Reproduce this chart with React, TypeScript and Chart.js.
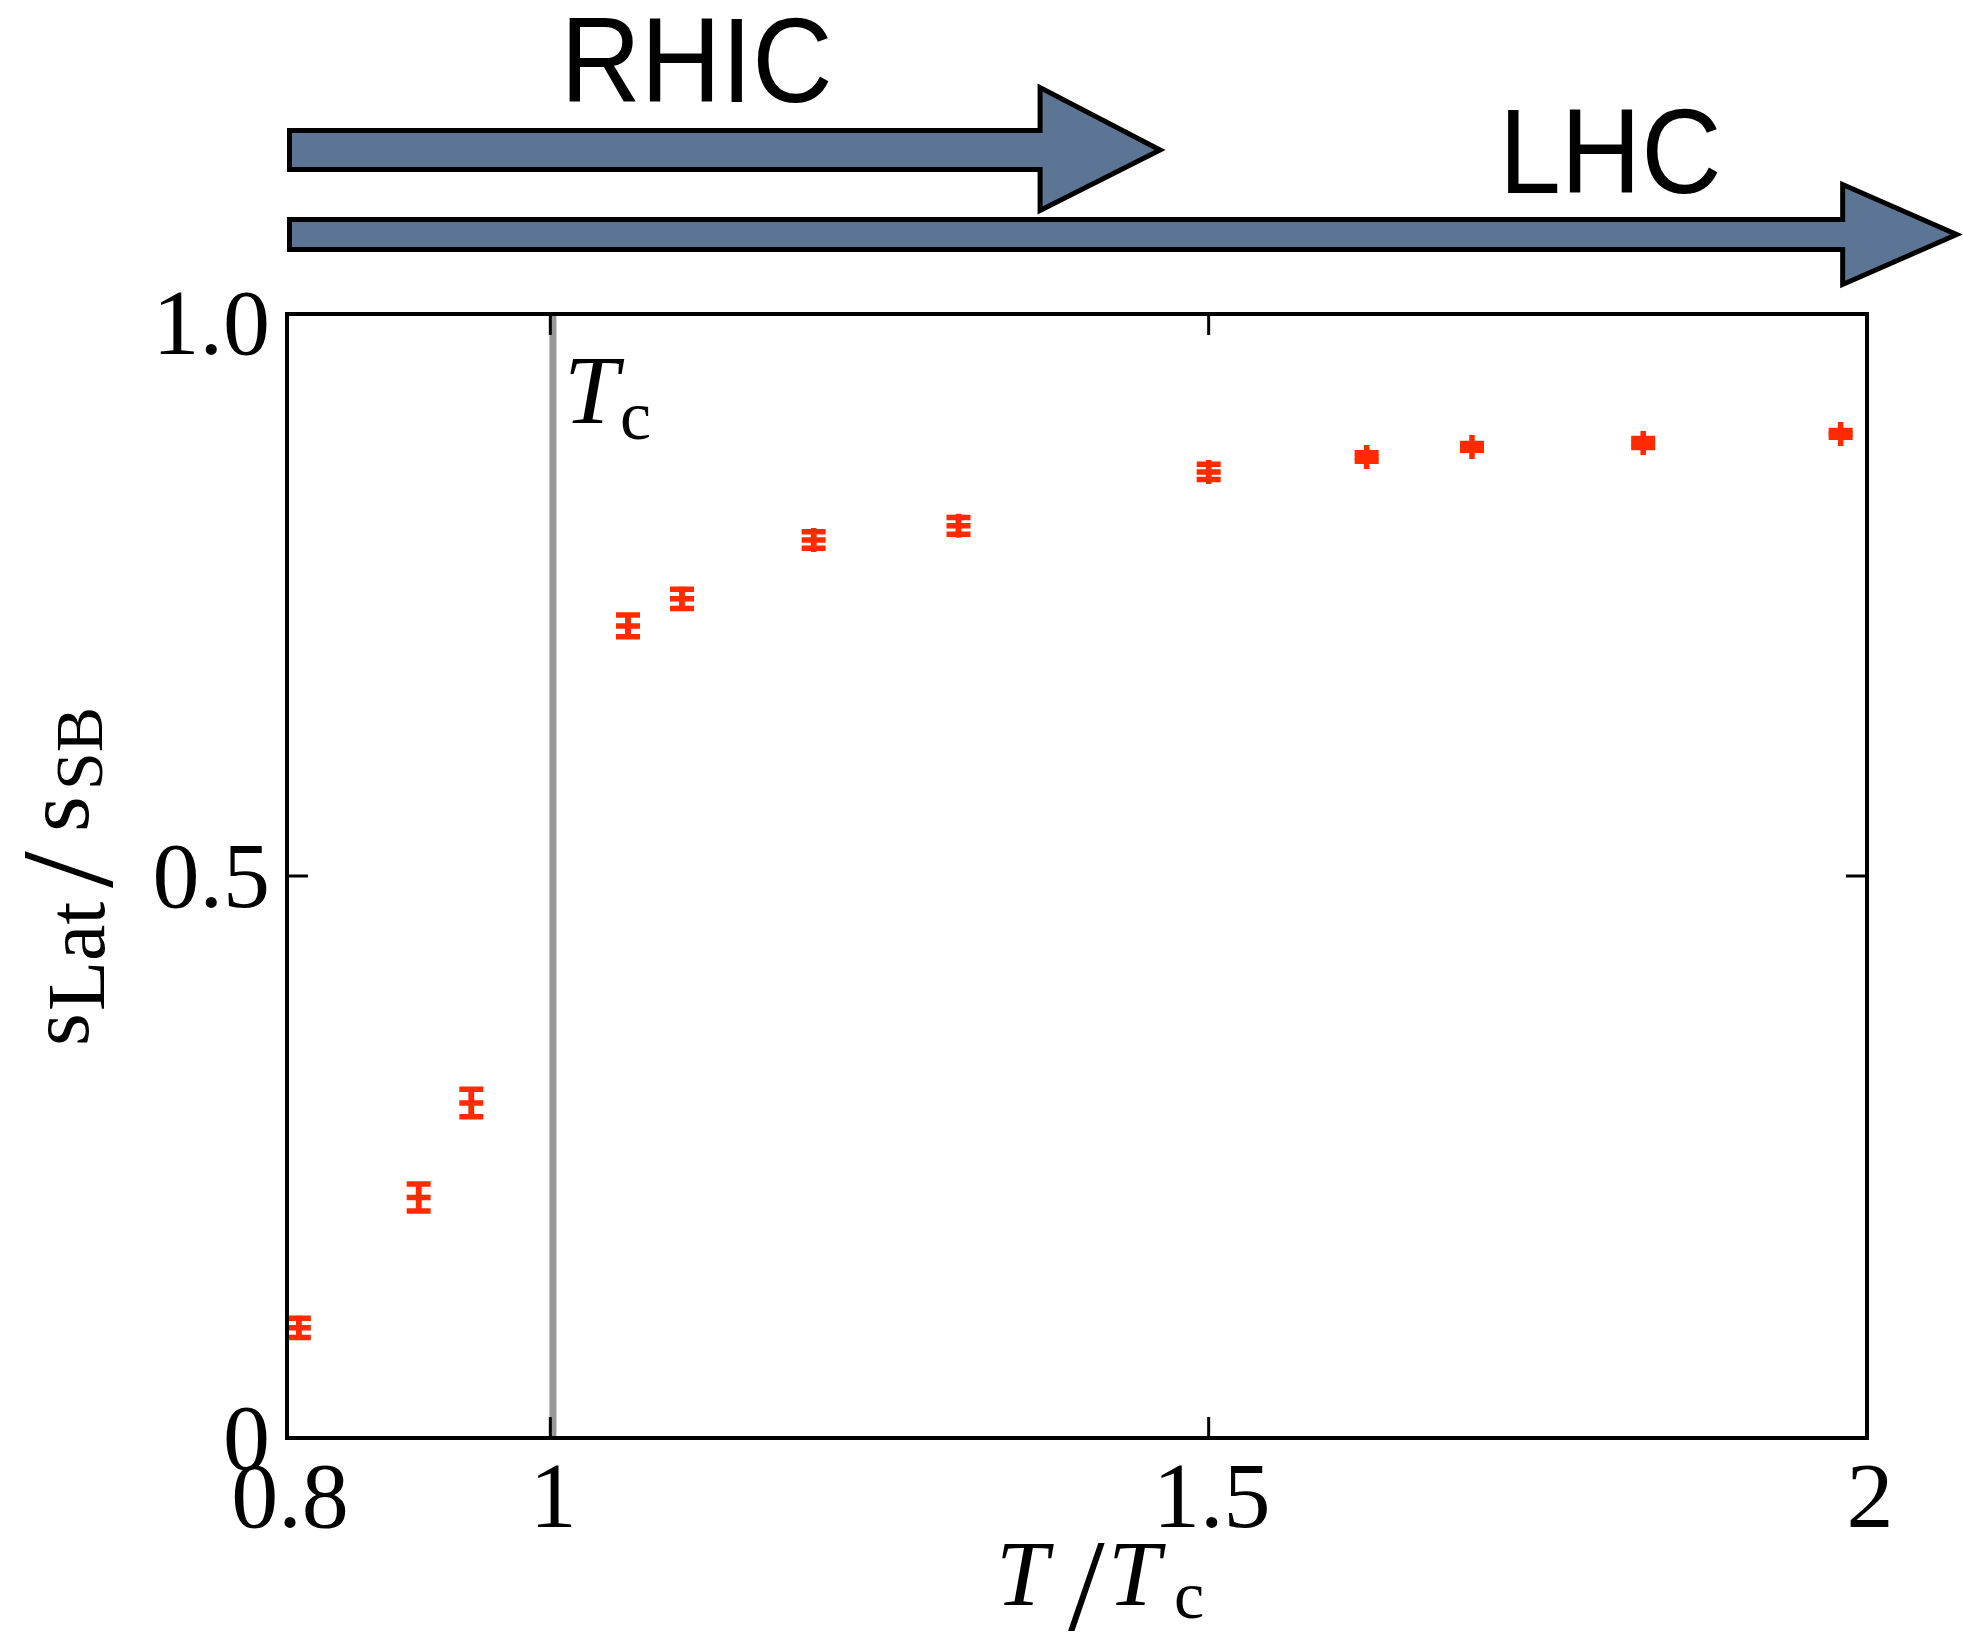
import { useEffect, useRef } from "react";
import { Chart, registerables } from "chart.js";

Chart.register(...registerables);

// ---- data ----
const temperatures = [0.809, 0.9, 0.94, 1.059, 1.1, 1.2, 1.31, 1.5, 1.62, 1.7, 1.83, 1.98];
const entropyRatio = [0.098, 0.214, 0.298, 0.7225, 0.7466, 0.799, 0.8115, 0.8595, 0.8728, 0.8817, 0.8853, 0.8933];
const entropyError = [0.0085, 0.012, 0.0123, 0.0096, 0.0086, 0.0073, 0.0074, 0.0068, 0.0037, 0.003, 0.004, 0.003];
const xTicks = [0.8, 1, 1.5, 2];
const xTickLabels = ["0.8", "1", "1.5", "2"];
const yTicks = [0, 0.5, 1];
const yTickLabels = ["0", "0.5", "1.0"];
const tcValue = 1.002;
const colliderNames = ["RHIC", "LHC"];
const colliderReach = [1.465, 2.07];
const colliderLabelAt = [1.111, 1.805];

// ---- styles ----
const RED = "#ff2a00";
const SERIF = "'Liberation Serif', 'Times New Roman', serif";
const SANS = "'Liberation Sans', Arial, sans-serif";
const ARROW_FILL = "#5c7594";
const arrowStyles = [
  { shaftTop: 130.5, shaftBottom: 169.5, headTop: 87.5, headBottom: 210.5, headLen: 120, labelBaseline: 102 },
  { shaftTop: 219.5, shaftBottom: 249.5, headTop: 184.5, headBottom: 284.5, headLen: 114, labelBaseline: 193 },
];

type Piece = { t: string; font: string; x: number; dy: number };

function drawPieces(ctx: CanvasRenderingContext2D, pieces: Piece[]) {
  ctx.textAlign = "left";
  ctx.textBaseline = "alphabetic";
  for (const p of pieces) {
    ctx.font = p.font;
    ctx.fillText(p.t, p.x, p.dy);
  }
}

const decorPlugin = {
  id: "decor",
  beforeDatasetsDraw(chart: any) {
    const { ctx, chartArea: a, scales } = chart;
    const x = scales.x;
    const y = scales.y;
    ctx.save();
    // Tc vertical line
    ctx.strokeStyle = "#999999";
    ctx.lineWidth = 7;
    const xt = x.getPixelForValue(tcValue);
    ctx.beginPath();
    ctx.moveTo(xt, a.top);
    ctx.lineTo(xt, a.bottom);
    ctx.stroke();
    // error bars
    ctx.strokeStyle = RED;
    ctx.lineWidth = 5.5;
    ctx.lineCap = "butt";
    temperatures.forEach((t, i) => {
      const px = x.getPixelForValue(t);
      const lo = y.getPixelForValue(entropyRatio[i] - entropyError[i]);
      const hi = y.getPixelForValue(entropyRatio[i] + entropyError[i]);
      ctx.beginPath();
      ctx.moveTo(px, lo);
      ctx.lineTo(px, hi);
      ctx.moveTo(px - 12, lo);
      ctx.lineTo(px + 12, lo);
      ctx.moveTo(px - 12, hi);
      ctx.lineTo(px + 12, hi);
      ctx.stroke();
    });
    ctx.restore();
  },
  afterDraw(chart: any) {
    const { ctx, chartArea: a, scales } = chart;
    const x = scales.x;
    const y = scales.y;
    ctx.save();
    ctx.fillStyle = "#000";
    ctx.strokeStyle = "#000";

    // frame
    ctx.lineWidth = 4;
    ctx.strokeRect(a.left, a.top, a.right - a.left, a.bottom - a.top);

    // inward ticks on all sides
    ctx.lineWidth = 3;
    const tl = 21;
    xTicks.forEach((v) => {
      const px = x.getPixelForValue(v);
      if (px <= a.left + 1 || px >= a.right - 1) return;
      ctx.beginPath();
      ctx.moveTo(px, a.bottom);
      ctx.lineTo(px, a.bottom - tl);
      ctx.moveTo(px, a.top);
      ctx.lineTo(px, a.top + tl);
      ctx.stroke();
    });
    yTicks.forEach((v) => {
      const py = y.getPixelForValue(v);
      if (py <= a.top + 1 || py >= a.bottom - 1) return;
      ctx.beginPath();
      ctx.moveTo(a.left, py);
      ctx.lineTo(a.left + tl, py);
      ctx.moveTo(a.right, py);
      ctx.lineTo(a.right - tl, py);
      ctx.stroke();
    });

    // tick labels
    ctx.font = `94px ${SERIF}`;
    ctx.textBaseline = "alphabetic";
    ctx.textAlign = "center";
    xTicks.forEach((v, i) => {
      ctx.fillText(xTickLabels[i], x.getPixelForValue(v) + 3, a.bottom + 89);
    });
    ctx.textAlign = "right";
    yTicks.forEach((v, i) => {
      const shift = i === yTicks.length - 1 ? 9 : 0;
      ctx.fillText(yTickLabels[i], a.left - 17, y.getPixelForValue(v) + 31 + shift);
    });

    // x-axis title  T / T_c
    ctx.save();
    ctx.translate(0, 1605);
    drawPieces(ctx, [
      { t: "T", font: `italic 94px ${SERIF}`, x: 996, dy: 0 },
      { t: "/", font: `132px ${SERIF}`, x: 1068, dy: 25 },
      { t: "T", font: `italic 94px ${SERIF}`, x: 1108, dy: 0 },
      { t: "c", font: `68px ${SERIF}`, x: 1174, dy: 13 },
    ]);
    ctx.restore();

    // y-axis title  s_Lat / s_SB (rotated)
    ctx.save();
    ctx.translate(88, 1046);
    ctx.rotate(-Math.PI / 2);
    drawPieces(ctx, [
      { t: "s", font: `84px ${SERIF}`, x: 0, dy: 0 },
      { t: "Lat", font: `82px ${SERIF}`, x: 35, dy: 16 },
      { t: "/", font: `132px ${SERIF}`, x: 158, dy: 24 },
      { t: "s", font: `92px ${SERIF}`, x: 214, dy: 0 },
      { t: "SB", font: `68px ${SERIF}`, x: 256, dy: 14 },
    ]);
    ctx.restore();

    // Tc annotation
    drawPieces(ctx, [
      { t: "T", font: `italic 98px ${SERIF}`, x: 564, dy: 423 },
      { t: "c", font: `70px ${SERIF}`, x: 620, dy: 439 },
    ]);

    // collider arrows
    colliderNames.forEach((name, i) => {
      const s = arrowStyles[i];
      const x0 = x.getPixelForValue(0.8) + 2.5;
      const tip = x.getPixelForValue(colliderReach[i]) - 2.5;
      const base = tip - s.headLen;
      const mid = (s.shaftTop + s.shaftBottom) / 2;
      ctx.beginPath();
      ctx.moveTo(x0, s.shaftTop);
      ctx.lineTo(base, s.shaftTop);
      ctx.lineTo(base, s.headTop);
      ctx.lineTo(tip, mid);
      ctx.lineTo(base, s.headBottom);
      ctx.lineTo(base, s.shaftBottom);
      ctx.lineTo(x0, s.shaftBottom);
      ctx.closePath();
      ctx.fillStyle = ARROW_FILL;
      ctx.fill();
      ctx.lineWidth = 5;
      ctx.lineJoin = "miter";
      ctx.strokeStyle = "#000";
      ctx.stroke();

      ctx.save();
      ctx.fillStyle = "#000";
      ctx.translate(x.getPixelForValue(colliderLabelAt[i]), s.labelBaseline);
      ctx.scale(0.92, 1);
      ctx.font = `121px ${SANS}`;
      ctx.textAlign = "center";
      ctx.textBaseline = "alphabetic";
      ctx.fillText(name, 0, 0);
      ctx.restore();
    });

    ctx.restore();
  },
};

export default function App() {
  const canvasRef = useRef<HTMLCanvasElement | null>(null);

  useEffect(() => {
    if (!canvasRef.current) return;
    const chart = new Chart(canvasRef.current, {
      type: "scatter",
      data: {
        datasets: [
          {
            label: "s_Lat / s_SB",
            data: temperatures.map((t, i) => ({ x: t, y: entropyRatio[i] })),
            pointStyle: "cross",
            pointRadius: 12,
            pointHoverRadius: 12,
            pointBorderWidth: 5.5,
            borderColor: RED,
            backgroundColor: RED,
            showLine: false,
          },
        ],
      },
      options: {
        animation: false,
        responsive: false,
        devicePixelRatio: 1,
        events: [],
        layout: { padding: { left: 287, right: 96, top: 314, bottom: 199 } },
        scales: {
          x: { type: "linear", min: 0.8, max: 2, display: false },
          y: { type: "linear", min: 0, max: 1, display: false },
        },
        plugins: {
          legend: { display: false },
          tooltip: { enabled: false },
        },
      },
      plugins: [decorPlugin],
    });
    return () => chart.destroy();
  }, []);

  return (
    <canvas
      ref={canvasRef}
      width={1963}
      height={1637}
      style={{ position: "fixed", left: 0, top: 0, display: "block", background: "#fff" }}
    />
  );
}
